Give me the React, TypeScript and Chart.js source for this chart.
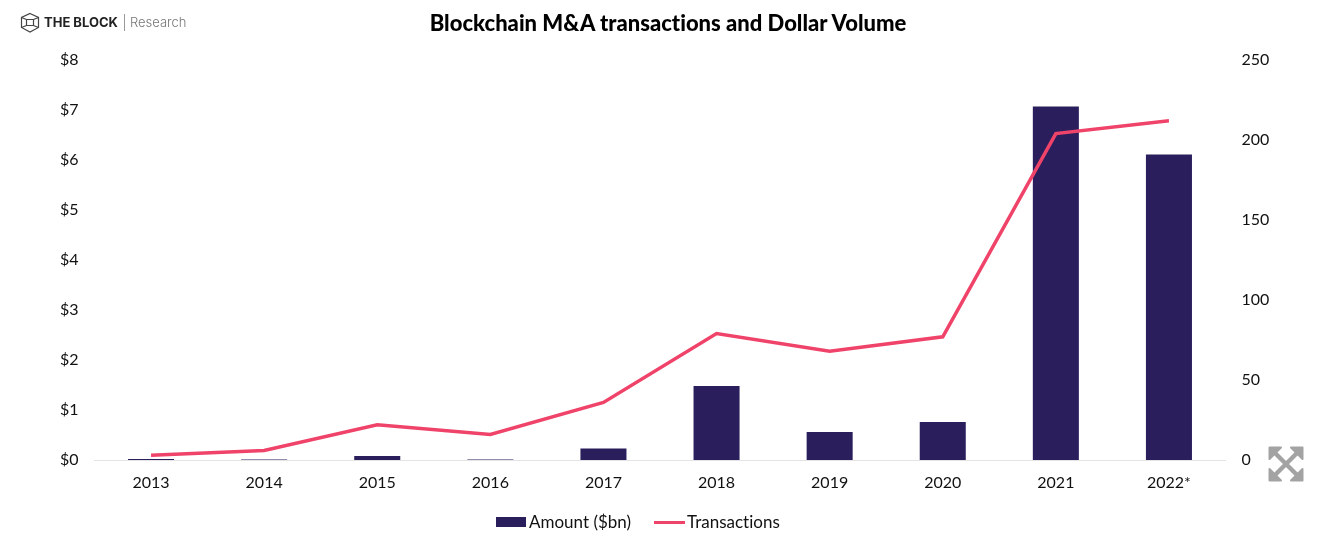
import React, { useEffect, useRef } from "react";
import { Chart, registerables } from "chart.js";

Chart.register(...registerables);

const categories = ["2013", "2014", "2015", "2016", "2017", "2018", "2019", "2020", "2021", "2022*"];
const amounts = [0.02, 0.01, 0.08, 0.01, 0.23, 1.48, 0.56, 0.76, 7.07, 6.11];
const transactions = [3, 6, 22, 16, 36, 79, 68, 77, 204, 212];
const titleText = "Blockchain M&A transactions and Dollar Volume";
const FONT = "Lato, 'Open Sans', sans-serif";

export default function App() {
  const ref = useRef<HTMLCanvasElement | null>(null);
  useEffect(() => {
    document.body.style.margin = "0";
    document.body.style.background = "#fff";
    const chart = new Chart(ref.current!, {
      type: "bar",
      data: {
        labels: categories,
        datasets: [
          {
            type: "line",
            label: "Transactions",
            data: transactions,
            yAxisID: "y1",
            borderColor: "#f0436a",
            backgroundColor: "#f0436a",
            borderWidth: 3.5,
            pointRadius: 0,
            tension: 0,
            order: 0,
          },
          {
            type: "bar",
            label: "Amount ($bn)",
            data: amounts,
            yAxisID: "y",
            backgroundColor: "#2a1f5c",
            barPercentage: 1,
            categoryPercentage: 0.407,
            order: 1,
          },
        ],
      },
      options: {
        animation: false,
        responsive: false,
        layout: { padding: { top: 60, bottom: 60, left: 0, right: 0 } },
        font: { family: FONT },
        scales: {
          x: {
            grid: { display: false, drawTicks: false },
            border: { color: "#e4e4e6", width: 1 },
            ticks: { color: "#111", font: { family: FONT, size: 16 }, padding: 13, maxRotation: 0 },
            afterFit: (s) => { s.height = 40; },
          },
          y: {
            position: "left",
            min: 0,
            max: 8,
            grid: { display: false, drawTicks: false },
            border: { display: false },
            ticks: { stepSize: 1, color: "#111", font: { family: FONT, size: 16 }, padding: 16, callback: (v) => "$" + v },
            afterFit: (s) => { s.width = 94.5; },
          },
          y1: {
            position: "right",
            min: 0,
            max: 250,
            grid: { display: false, drawTicks: false },
            border: { display: false },
            ticks: { stepSize: 50, color: "#111", font: { family: FONT, size: 16 }, padding: 16 },
            afterFit: (s) => { s.width = 94.5; },
          },
        },
        plugins: {
          title: { display: false },
          tooltip: { enabled: false },
          legend: { display: false },
        },
      },
    } as any);
    return () => chart.destroy();
  }, []);

  return (
    <div style={{ position: "relative", width: 1320, height: 560, background: "#fff", fontFamily: FONT, overflow: "hidden", fontVariantLigatures: "none" }}>
      <canvas ref={ref} width={1320} height={560} style={{ display: "block" }} />
      <div style={{ position: "absolute", left: 0, width: 1336, top: 9, textAlign: "center", fontSize: 22, fontWeight: 900, color: "#000" }}>{titleText}</div>
      <svg style={{ position: "absolute", left: 20, top: 12 }} width={20} height={22} viewBox="0 0 20 22" fill="none" stroke="#444" strokeWidth={1.2}>
        <path d="M10 1.5 L18.5 5.5 V15.5 L10 20 L1.5 15.5 V5.5 Z" />
        <path d="M6.5 7.5 H13.5 V13.5 H6.5 Z M1.5 5.5 L6.5 7.5 M18.5 5.5 L13.5 7.5 M1.5 15.5 L6.5 13.5 M18.5 15.5 L13.5 13.5" />
      </svg>
      <div style={{ position: "absolute", left: 44, top: 14, fontSize: 13, fontWeight: 700, color: "#222", fontFamily: "Inter, sans-serif" }}>THE BLOCK</div>
      <div style={{ position: "absolute", left: 124, top: 14, height: 17, borderLeft: "1px solid #999" }} />
      <div style={{ position: "absolute", left: 130, top: 14, fontSize: 13, color: "#777", fontFamily: "Inter, sans-serif", fontWeight: 300 }}>Research</div>
      <svg style={{ position: "absolute", left: 1268, top: 446 }} width={36} height={36} viewBox="0 0 36 36" fill="#a3a3a3" stroke="#a3a3a3" strokeLinejoin="round">
        <path d="M1.5 1.5 H13 L1.5 13 Z M34.5 1.5 H23 L34.5 13 Z M1.5 34.5 H13 L1.5 23 Z M34.5 34.5 H23 L34.5 23 Z" strokeWidth={2} />
        <path d="M5 5 L31 31 M31 5 L5 31" strokeWidth={4.5} fill="none" />
      </svg>
      <div style={{ position: "absolute", left: 496, top: 517, width: 30, height: 10, background: "#2a1f5c" }} />
      <div style={{ position: "absolute", left: 529, top: 511, fontSize: 17, color: "#111" }}>Amount ($bn)</div>
      <div style={{ position: "absolute", left: 654, top: 521, width: 31, height: 3, background: "#f0436a" }} />
      <div style={{ position: "absolute", left: 687, top: 511, fontSize: 17, color: "#111" }}>Transactions</div>
    </div>
  );
}
